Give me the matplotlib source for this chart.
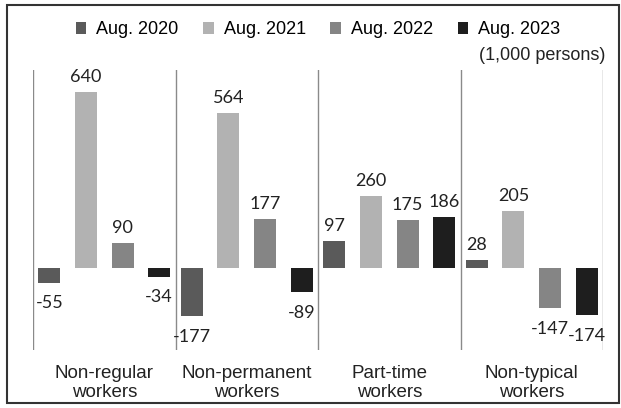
import matplotlib
matplotlib.use("Agg")
import matplotlib.pyplot as plt
from matplotlib.patches import Rectangle, Patch
import numpy as np

categories = ["Non-regular\nworkers", "Non-permanent\nworkers", "Part-time\nworkers", "Non-typical\nworkers"]
series_names = ["Aug. 2020", "Aug. 2021", "Aug. 2022", "Aug. 2023"]
v2020 = [-55, -177, 97, 28]
v2021 = [640, 564, 260, 205]
v2022 = [90, 177, 175, -147]
v2023 = [-34, -89, 186, -174]
colors = ["#5a5a5a", "#b2b2b2", "#858585", "#1e1e1e"]

W, H = 621, 408
fig = plt.figure(figsize=(W / 100, H / 100), dpi=100)
ax = fig.add_axes([33 / W, 1 - 350 / H, (603 - 33) / W, (350 - 70) / H])

x = np.arange(len(categories))
step = 0.257
width = 0.155
label_font = "Lato"
for j, (name, vals, c) in enumerate(zip(series_names, [v2020, v2021, v2022, v2023], colors)):
    xs = x + (j - 1.5) * step
    ax.bar(xs, vals, width=width, color=c, label=name, zorder=2)
    for xi, v in zip(xs, vals):
        if v >= 0:
            ax.annotate(str(v), (xi, v), xytext=(0, 5), textcoords="offset points",
                        ha="center", va="bottom", fontsize=13, family=label_font, color="#222222")
        else:
            ax.annotate(str(v), (xi, v), xytext=(0, -9), textcoords="offset points",
                        ha="center", va="top", fontsize=13, family=label_font, color="#222222")

ax.set_xlim(-0.5, len(categories) - 0.5)
ax.set_ylim(-300, 720)
for b in np.arange(-0.5, len(categories), 1.0):
    ax.axvline(b, color="#8a8a8a", lw=1.0, zorder=1)
for s in ax.spines.values():
    s.set_visible(False)
ax.set_yticks([])
ax.set_xticks(x)
ax.set_xticklabels(categories, fontsize=13.5, family="Liberation Sans", color="#222222", linespacing=1.1)
ax.tick_params(axis="x", length=0, pad=11)

handles = [Patch(facecolor=c, edgecolor="none") for c in colors]
fig.legend(handles, series_names, loc="center", bbox_to_anchor=(318 / W, 1 - 30 / H), ncol=4,
           frameon=False, prop={"family": "Liberation Sans", "size": 13},
           handlelength=0.6, handleheight=0.6, handletextpad=0.55, columnspacing=1.35)
fig.text(605 / W, 1 - 55 / H, "(1,000 persons)", ha="right", va="center",
         fontsize=13, family="Liberation Sans", color="#222222")

fig.patches.append(Rectangle((7 / W, 5 / H), (619 - 7) / W, (403 - 5) / H, transform=fig.transFigure,
                             fill=False, edgecolor="#333333", lw=1.5))

fig.savefig("out.png", dpi=100)
